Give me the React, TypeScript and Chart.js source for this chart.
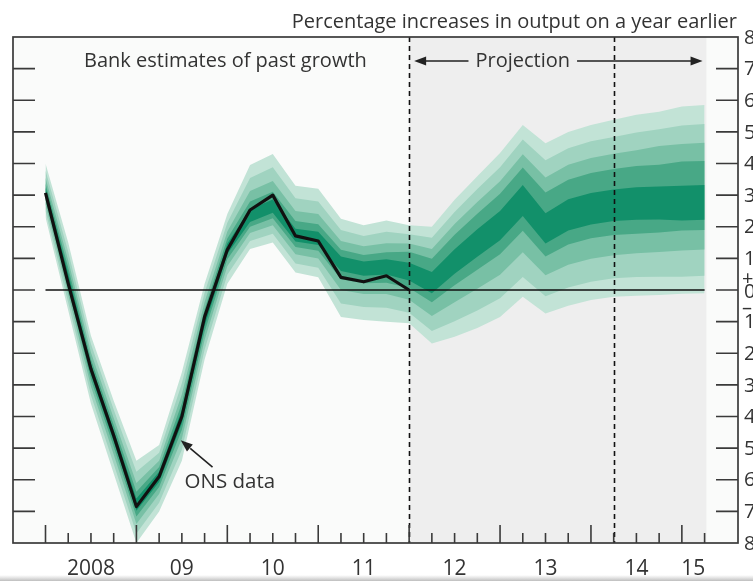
import React, { useEffect, useRef } from "react";
import { Chart, registerables } from "chart.js";

Chart.register(...registerables);

// ---------------- data ----------------
const QUARTERS = [
  "2008 Q1", "2008 Q2", "2008 Q3", "2008 Q4",
  "2009 Q1", "2009 Q2", "2009 Q3", "2009 Q4",
  "2010 Q1", "2010 Q2", "2010 Q3", "2010 Q4",
  "2011 Q1", "2011 Q2", "2011 Q3", "2011 Q4",
  "2012 Q1", "2012 Q2", "2012 Q3", "2012 Q4",
  "2013 Q1", "2013 Q2", "2013 Q3", "2013 Q4",
  "2014 Q1", "2014 Q2", "2014 Q3", "2014 Q4",
  "2015 Q1", "2015 Q2",
];

// ONS data (black line), 2008 Q1 .. 2012 Q1
const ONS_DATA = [3.07, 0.2, -2.5, -4.6, -6.85, -5.9, -4.0, -0.85, 1.27, 2.53, 3.0, 1.71, 1.55, 0.4, 0.26, 0.45, 0.0];

// Fan bands (Bank estimates of past growth + projection), outer (1) to central (5)
const FAN_LOWER_1 = [2.3, -0.65, -3.6, -5.8, -8.0, -7.0, -5.4, -2.2, 0.2, 1.3, 1.5, 0.55, 0.4, -0.85, -0.95, -1.0, -1.05, -1.69, -1.48, -1.2, -0.85, -0.21, -0.74, -0.5, -0.32, -0.21, -0.18, -0.16, -0.12, -0.1];
const FAN_LOWER_2 = [2.5, -0.4, -3.33, -5.5, -7.7, -6.73, -5.05, -1.89, 0.48, 1.55, 1.78, 0.84, 0.7, -0.43, -0.54, -0.56, -0.72, -1.3, -0.99, -0.65, -0.26, 0.41, -0.2, 0.08, 0.26, 0.37, 0.41, 0.42, 0.42, 0.45];
const FAN_LOWER_3 = [2.7, -0.15, -3.05, -5.2, -7.4, -6.45, -4.7, -1.58, 0.75, 1.8, 2.05, 1.13, 1.0, 0.0, -0.13, -0.13, -0.31, -0.82, -0.39, 0.04, 0.48, 1.19, 0.47, 0.8, 0.99, 1.1, 1.16, 1.2, 1.25, 1.28];
const FAN_LOWER_4 = [2.86, 0.05, -2.83, -4.96, -7.16, -6.23, -4.42, -1.33, 0.97, 2.0, 2.27, 1.36, 1.24, 0.34, 0.21, 0.23, 0.06, -0.39, 0.15, 0.64, 1.13, 1.87, 1.06, 1.44, 1.64, 1.74, 1.78, 1.82, 1.88, 1.9];
const FAN_LOWER_5 = [2.98, 0.2, -2.67, -4.78, -6.98, -6.07, -4.21, -1.14, 1.14, 2.15, 2.44, 1.53, 1.42, 0.6, 0.45, 0.49, 0.3, -0.1, 0.51, 1.05, 1.57, 2.34, 1.47, 1.88, 2.07, 2.18, 2.22, 2.23, 2.2, 2.22];
const FAN_UPPER_5 = [3.24, 0.52, -2.34, -4.44, -6.59, -5.75, -3.79, -0.78, 1.47, 2.55, 2.86, 1.94, 1.84, 1.06, 0.9, 0.97, 0.86, 0.57, 1.29, 1.92, 2.5, 3.32, 2.43, 2.87, 3.07, 3.18, 3.25, 3.27, 3.3, 3.32];
const FAN_UPPER_4 = [3.37, 0.7, -2.19, -4.27, -6.38, -5.6, -3.58, -0.61, 1.63, 2.8, 3.11, 2.18, 2.08, 1.27, 1.11, 1.19, 1.21, 0.99, 1.75, 2.41, 3.04, 3.87, 3.08, 3.49, 3.7, 3.83, 3.92, 3.96, 4.06, 4.08];
const FAN_UPPER_3 = [3.55, 0.93, -1.98, -4.05, -6.1, -5.4, -3.3, -0.38, 1.85, 3.13, 3.45, 2.5, 2.4, 1.55, 1.38, 1.48, 1.47, 1.3, 2.09, 2.78, 3.44, 4.29, 3.56, 3.96, 4.17, 4.31, 4.42, 4.55, 4.62, 4.66];
const FAN_UPPER_2 = [3.78, 1.21, -1.71, -3.78, -5.75, -5.15, -2.95, -0.09, 2.13, 3.54, 3.88, 2.9, 2.8, 1.9, 1.71, 1.84, 1.76, 1.65, 2.47, 3.19, 3.88, 4.76, 4.1, 4.48, 4.7, 4.84, 4.98, 5.08, 5.2, 5.25];
const FAN_UPPER_1 = [4.0, 1.5, -1.45, -3.5, -5.4, -4.9, -2.6, 0.2, 2.4, 3.95, 4.3, 3.3, 3.2, 2.25, 2.05, 2.2, 2.05, 2.0, 2.85, 3.6, 4.33, 5.22, 4.64, 5.0, 5.22, 5.38, 5.54, 5.64, 5.8, 5.85];

const YEAR_LABELS = ["2008", "09", "10", "11", "12", "13", "14", "15"];
const YEAR_LABEL_AT = [2, 6, 10, 14, 18, 22, 26, 28.5]; // quarter positions of the year labels
const Y_TICKS = [8, 7, 6, 5, 4, 3, 2, 1, 0, -1, -2, -3, -4, -5, -6, -7, -8];
const Y_TICK_LABELS = ["8", "7", "6", "5", "4", "3", "2", "1", "0", "1", "2", "3", "4", "5", "6", "7", "8"];

const PROJECTION_START = 16; // 2012 Q1
const DASHED_AT = [16, 25];
const SHADE_END = 29.08;
const X_MIN = -1.43;
const X_MAX = 30.47;

const TITLE = "Percentage increases in output on a year earlier";
const PAST_LABEL = "Bank estimates of past growth";
const PROJ_LABEL = "Projection";
const ONS_LABEL = "ONS data";

const BAND_COLORS = ["#c2e3d6", "#a0d3c0", "#78c0a5", "#48a886", "#12906a"];
const FONT = '"Open Sans", "Noto Sans", sans-serif';
const TEXT = "#333333";

const LOWERS = [FAN_LOWER_1, FAN_LOWER_2, FAN_LOWER_3, FAN_LOWER_4, FAN_LOWER_5];
const UPPERS = [FAN_UPPER_1, FAN_UPPER_2, FAN_UPPER_3, FAN_UPPER_4, FAN_UPPER_5];

const pts = (vals: number[]) => vals.map((v, i) => ({ x: i, y: v }));

function arrowHead(ctx: CanvasRenderingContext2D, tx: number, ty: number, fx: number, fy: number, len: number, half: number) {
  const ang = Math.atan2(ty - fy, tx - fx);
  ctx.beginPath();
  ctx.moveTo(tx, ty);
  ctx.lineTo(tx - len * Math.cos(ang) + half * Math.sin(ang), ty - len * Math.sin(ang) - half * Math.cos(ang));
  ctx.lineTo(tx - len * Math.cos(ang) - half * Math.sin(ang), ty - len * Math.sin(ang) + half * Math.cos(ang));
  ctx.closePath();
  ctx.fill();
}

const decor = {
  id: "decor",
  beforeDatasetsDraw(chart: any) {
    const { ctx, chartArea: a, scales } = chart;
    const x = scales.x;
    ctx.save();
    ctx.fillStyle = "#fafbfa";
    ctx.fillRect(a.left, a.top, a.right - a.left, a.bottom - a.top);
    const s0 = x.getPixelForValue(PROJECTION_START);
    const s1 = x.getPixelForValue(SHADE_END);
    ctx.fillStyle = "#eeeeee";
    ctx.fillRect(s0, a.top, s1 - s0, a.bottom - a.top);
    ctx.restore();
  },
  afterDatasetsDraw(chart: any) {
    const { ctx, chartArea: a, scales } = chart;
    const x = scales.x;
    const y = scales.y;
    ctx.save();

    // zero line
    ctx.strokeStyle = "#111";
    ctx.lineWidth = 1.5;
    ctx.beginPath();
    ctx.moveTo(x.getPixelForValue(0), y.getPixelForValue(0));
    ctx.lineTo(x.getPixelForValue(QUARTERS.length - 1), y.getPixelForValue(0));
    ctx.stroke();

    // dashed separators
    ctx.setLineDash([5, 4]);
    ctx.lineWidth = 1.6;
    DASHED_AT.forEach((q) => {
      const px = Math.round(x.getPixelForValue(q)) + 0.5;
      ctx.beginPath();
      ctx.moveTo(px, a.top);
      ctx.lineTo(px, a.bottom);
      ctx.stroke();
    });
    ctx.setLineDash([]);

    // frame
    ctx.strokeStyle = "#3a3a3a";
    ctx.lineWidth = 1.7;
    ctx.strokeRect(a.left, a.top, a.right - a.left, a.bottom - a.top);

    // y ticks (both sides, inward)
    ctx.lineWidth = 1.6;
    Y_TICKS.forEach((v) => {
      if (v === 8 || v === -8) return;
      const py = y.getPixelForValue(v);
      ctx.beginPath();
      ctx.moveTo(a.left, py);
      ctx.lineTo(a.left + 22, py);
      ctx.moveTo(a.right - 22, py);
      ctx.lineTo(a.right, py);
      ctx.stroke();
    });

    // x ticks (quarters)
    QUARTERS.forEach((q, i) => {
      const px = x.getPixelForValue(i);
      const len = q.endsWith("Q1") ? 18 : 10;
      ctx.beginPath();
      ctx.moveTo(px, a.bottom);
      ctx.lineTo(px, a.bottom - len);
      ctx.stroke();
    });

    // texts
    ctx.fillStyle = TEXT;
    ctx.font = `20px ${FONT}`;
    ctx.textBaseline = "alphabetic";

    // title
    ctx.textAlign = "right";
    ctx.fillText(TITLE, a.right - 1, 28);

    // year labels
    ctx.textAlign = "center";
    ctx.font = `21px ${FONT}`;
    YEAR_LABELS.forEach((lab, i) => {
      ctx.fillText(lab, x.getPixelForValue(YEAR_LABEL_AT[i]), 575);
    });

    // right-hand labels (clipped by canvas edge)
    ctx.font = `20px ${FONT}`;
    ctx.textAlign = "left";
    ctx.textBaseline = "middle";
    Y_TICKS.forEach((v, i) => {
      const py = y.getPixelForValue(v);
      if (v === 0) {
        ctx.fillText("+", a.right + 4, py - 11);
        ctx.fillText(Y_TICK_LABELS[i], a.right + 6, py + 2);
        ctx.fillText("\u2013", a.right + 4, py + 18);
      } else {
        ctx.fillText(Y_TICK_LABELS[i], a.right + 6, py + 1);
      }
    });

    // in-plot labels
    ctx.textBaseline = "alphabetic";
    ctx.textAlign = "left";
    ctx.fillText(PAST_LABEL, 84, 67);

    const cx = x.getPixelForValue(21);
    ctx.textAlign = "center";
    ctx.fillText(PROJ_LABEL, cx, 67);
    const w = ctx.measureText(PROJ_LABEL).width;
    const ay = 61;
    const leftTip = x.getPixelForValue(PROJECTION_START) + 5;
    const rightTip = x.getPixelForValue(QUARTERS.length - 1) - 2;
    ctx.strokeStyle = "#222";
    ctx.fillStyle = "#222";
    ctx.lineWidth = 1.6;
    ctx.beginPath();
    ctx.moveTo(cx - w / 2 - 7, ay);
    ctx.lineTo(leftTip + 8, ay);
    ctx.moveTo(cx + w / 2 + 7, ay);
    ctx.lineTo(rightTip - 8, ay);
    ctx.stroke();
    arrowHead(ctx, leftTip, ay, leftTip + 20, ay, 12, 4.5);
    arrowHead(ctx, rightTip, ay, rightTip - 20, ay, 12, 4.5);

    // ONS data label + arrow
    ctx.fillStyle = TEXT;
    ctx.textAlign = "left";
    ctx.font = `20.5px ${FONT}`;
    ctx.fillText(ONS_LABEL, x.getPixelForValue(6.12), y.getPixelForValue(-6.27));
    const tx = x.getPixelForValue(5.95);
    const ty = y.getPixelForValue(-4.75);
    const fx = x.getPixelForValue(7.35);
    const fy = y.getPixelForValue(-5.6);
    ctx.strokeStyle = "#222";
    ctx.fillStyle = "#222";
    ctx.lineWidth = 1.6;
    ctx.beginPath();
    ctx.moveTo(fx, fy);
    ctx.lineTo(tx + (fx - tx) * 0.3, ty + (fy - ty) * 0.3);
    ctx.stroke();
    arrowHead(ctx, tx, ty, fx, fy, 12, 4.5);

    ctx.restore();
  },
  afterDraw(chart: any) {
    const { ctx, width, height } = chart;
    ctx.save();
    const g = ctx.createLinearGradient(0, height - 6, 0, height);
    g.addColorStop(0, "rgba(200,200,200,0)");
    g.addColorStop(1, "rgba(190,190,190,1)");
    ctx.fillStyle = g;
    ctx.fillRect(0, height - 6, width, 6);
    ctx.restore();
  },
};

export default function App() {
  const ref = useRef<HTMLCanvasElement>(null);

  useEffect(() => {
    const canvas = ref.current;
    if (!canvas) return;

    const datasets: any[] = [];
    LOWERS.forEach((lo, k) => {
      const lowerIndex = datasets.length;
      datasets.push({
        label: `band ${k + 1} lower`,
        data: pts(lo),
        borderColor: "rgba(0,0,0,0)",
        borderWidth: 0,
        pointRadius: 0,
        fill: false,
        order: 60 - k * 10,
      });
      datasets.push({
        label: `band ${k + 1} upper`,
        data: pts(UPPERS[k]),
        borderColor: "rgba(0,0,0,0)",
        borderWidth: 0,
        pointRadius: 0,
        backgroundColor: BAND_COLORS[k],
        fill: lowerIndex,
        order: 55 - k * 10,
      });
    });
    datasets.push({
      label: "ONS data",
      data: pts(ONS_DATA),
      borderColor: "#111111",
      borderWidth: 3.2,
      pointRadius: 0,
      fill: false,
      order: 0,
    });

    const chart = new Chart(canvas, {
      type: "line",
      data: { datasets },
      options: {
        animation: false,
        responsive: false,
        devicePixelRatio: 1,
        parsing: false as any,
        normalized: true,
        layout: { padding: { left: 13, top: 37, right: 15, bottom: 38 } },
        elements: { line: { tension: 0, borderJoinStyle: "round" as any } },
        plugins: {
          legend: { display: false },
          tooltip: { enabled: false },
          title: { display: false },
        },
        scales: {
          x: { type: "linear", min: X_MIN, max: X_MAX, display: false },
          y: { type: "linear", min: -8, max: 8, display: false },
        },
      },
      plugins: [decor],
    } as any);

    return () => chart.destroy();
  }, []);

  return (
    <div style={{ position: "absolute", left: 0, top: 0, width: 753, height: 581, overflow: "hidden", background: "#ffffff" }}>
      <canvas ref={ref} width={753} height={581} style={{ display: "block", width: 753, height: 581 }} />
    </div>
  );
}
